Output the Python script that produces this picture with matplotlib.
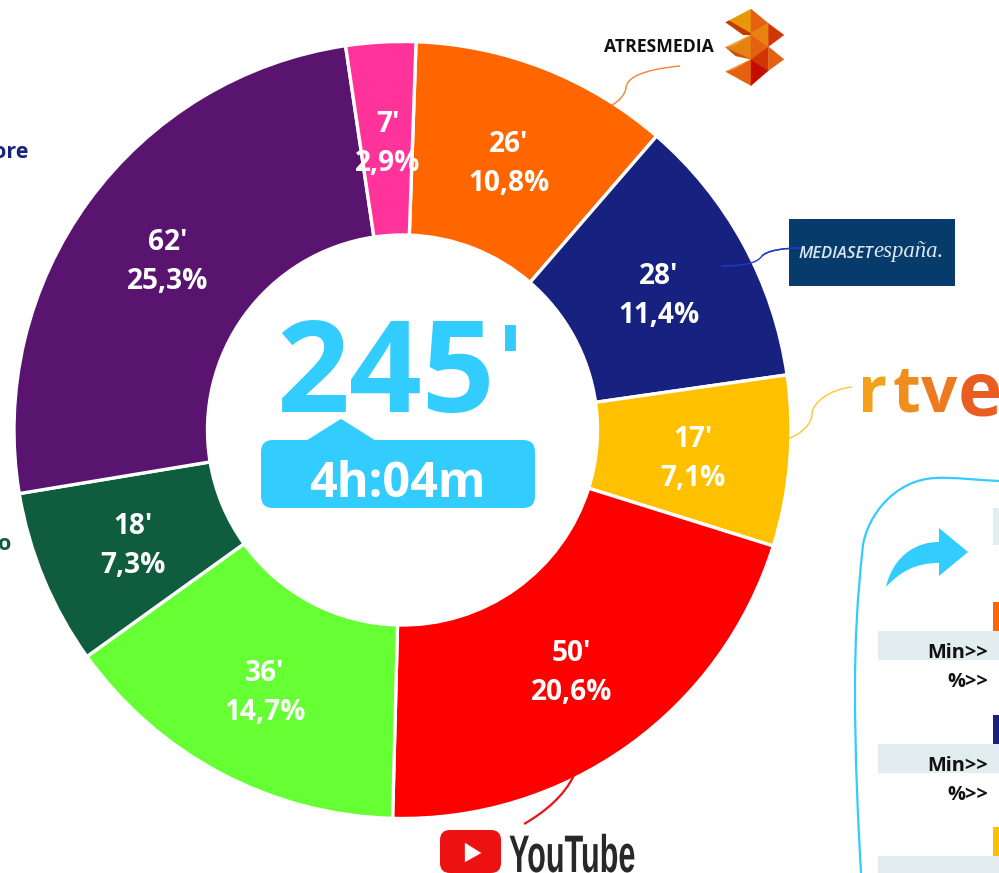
import math
import matplotlib
matplotlib.use("Agg")
import matplotlib.pyplot as plt
from matplotlib.patches import PathPatch, Polygon, FancyBboxPatch, Rectangle
from matplotlib.patheffects import AbstractPathEffect
from matplotlib.path import Path
from matplotlib.transforms import Affine2D

# ---- data ----
minutes = [26, 28, 17, 50, 36, 18, 62, 7]
shares = [10.8, 11.4, 7.1, 20.6, 14.7, 7.3, 25.3, 2.9]
colors = ["#FF6600", "#172280", "#FFC000", "#FF0000", "#66FF33", "#0F5C3E", "#58146F", "#FF3399"]
total_label = "245'"
total_time = "4h:04m"

W, H = 999, 873
plt.rcParams["font.family"] = ["Open Sans", "DejaVu Sans"]
fig = plt.figure(figsize=(W / 100, H / 100), dpi=100)
ax = fig.add_axes([0, 0, 1, 1])

CX, CY, R, RIN = 402.5, 430, 388.5, 195
START = 2.0
BLUE = "#33CCFF"


def Y(y):
    return H - y


ax.pie(shares, colors=colors, startangle=90 - START, counterclock=False,
       center=(CX, Y(CY)), radius=R,
       wedgeprops=dict(width=R - RIN, edgecolor="white", linewidth=2.4))
ax.set_xlim(0, W)
ax.set_ylim(0, H)
ax.set_aspect("auto")
ax.axis("off")


class Squeeze(AbstractPathEffect):
    """Narrow a text horizontally about its left edge (no condensed font is installed)."""

    def __init__(self, x0, sx):
        super().__init__()
        self.x0, self.sx = x0, sx

    def draw_path(self, renderer, gc, tpath, affine, rgbFace=None):
        t = Affine2D().translate(-self.x0, 0).scale(self.sx, 1).translate(self.x0, 0)
        renderer.draw_path(gc, tpath, affine + t, rgbFace)


def curve(pts, color, lw):
    codes = [Path.MOVETO] + [Path.CURVE4] * (len(pts) - 1)
    ax.add_patch(PathPatch(Path([(x, Y(y)) for x, y in pts], codes), fc="none", ec=color, lw=lw, zorder=4))


def poly(pts, color, z=4):
    ax.add_patch(Polygon([(x, Y(y)) for x, y in pts], closed=True, fc=color, ec=color, lw=0.2, zorder=z))


# wedge labels, at mid-ring
cum = 0.0
mid_r = (R + RIN) / 2
for m, s in zip(minutes, shares):
    a = math.radians(START + (cum + s / 2) * 3.6)
    cum += s
    x = CX + mid_r * math.sin(a)
    y = CY - mid_r * math.cos(a)
    ax.text(x, Y(y - 14), f"{m}'", color="white", fontsize=20.2, fontweight="bold",
            ha="center", va="center", zorder=5)
    ax.text(x, Y(y + 25), f"{s:.1f}%".replace(".", ","), color="white", fontsize=20.2,
            fontweight="bold", ha="center", va="center", zorder=5)

# centre
ax.text(385.5, Y(412), total_label[:-1], color=BLUE, fontsize=92, fontweight="bold", ha="center",
        va="baseline", zorder=5)
ax.text(510.5, Y(322), total_label[-1], color=BLUE, fontsize=68, fontweight="bold", ha="center",
        va="top", family=["DejaVu Sans"], zorder=5)
ax.add_patch(FancyBboxPatch((261 + 12, Y(508) + 12), 274 - 24, 68 - 24,
                            boxstyle="round,pad=12,rounding_size=12", fc=BLUE, ec="none", zorder=4))
poly([(306, 441), (341, 419), (376, 441)], BLUE)
ax.text(397, Y(497), total_time, color="white", fontsize=35, fontweight="bold", ha="center",
        va="baseline", zorder=5)

# leader lines
curve([(680, 66), (640, 70), (627, 78), (626, 88), (625, 95), (618, 102), (612, 105)], "#F58233", 1.0)
curve([(721, 266), (745, 266), (757, 263), (762, 256), (768, 250), (785, 248), (801, 248)], "#2438C8", 1.0)
curve([(852, 387), (830, 389), (812, 403), (812, 414), (812, 425), (800, 434), (788, 439)], "#FFC72C", 1.0)
curve([(574, 775), (565, 795), (545, 812), (524, 824)], "#EE1111", 1.6)

# Atresmedia logo
ax.text(604, Y(52.5), "ATRESMEDIA", color="#111111", fontsize=12.7, fontweight="bold",
        ha="left", va="baseline", zorder=5)
z = lambda p: [(715 + a / 3, b / 3) for a, b in p]
poly(z([(32, 67), (108, 27), (108, 100)]), "#E8960A")
poly(z([(32, 67), (42, 62), (108, 100), (108, 105), (85, 105)]), "#C23A00")
poly(z([(108, 27), (160, 70), (108, 100)]), "#E5610F")
poly(z([(108, 100), (160, 70), (160, 140), (108, 105)]), "#E8820F")
poly(z([(160, 70), (207, 105), (160, 140)]), "#D03600")
poly(z([(32, 142), (108, 105), (108, 178)]), "#E8820F")
poly(z([(32, 142), (108, 105), (60, 135)]), "#EDA63C")
poly(z([(108, 105), (160, 140), (108, 178)]), "#E5610F")
poly(z([(32, 142), (108, 178), (62, 168)]), "#C8520A")
poly(z([(108, 178), (160, 140), (160, 212)]), "#D03600")
poly(z([(160, 140), (207, 178), (160, 212)]), "#E5610F")
poly(z([(32, 215), (108, 178), (108, 257)]), "#E5610F")
poly(z([(32, 215), (108, 178), (62, 205)]), "#EDA63C")
poly(z([(108, 178), (160, 212), (108, 257)]), "#C40D00")

# Mediaset logo
ax.add_patch(Rectangle((789, Y(286)), 166, 67, fc="#073B6B", ec="none", zorder=3))
curve([(762, 256), (768, 250), (785, 248), (801, 248)], "#2438C8", 1.0)
ax.text(798, Y(257.5), "MEDIASET", color="#DCE8F0", fontsize=12, fontstyle="italic",
        fontweight="semibold", ha="left", va="baseline", zorder=5)
ax.text(873, Y(257.5), "españa.", color="#DCE8F0", fontsize=16.4, fontstyle="italic",
        family=["Liberation Serif", "DejaVu Serif"], ha="left", va="baseline", zorder=5)

# rtve logo
for ch, x, c, fs, base in zip("rtve", [858, 892, 921, 958], ["#F4A01C", "#F18C1E", "#EE7A20", "#E85E22"],
                              [46, 46, 46, 54], [412, 412, 412, 415]):
    ax.text(x, Y(base), ch, color=c, fontsize=fs, fontweight="bold", ha="left", va="baseline", zorder=5)

# YouTube logo
ax.add_patch(FancyBboxPatch((450, 10), 41, 23, boxstyle="round,pad=10,rounding_size=10",
                            fc="#EE1111", ec="none", zorder=4))
poly([(465, 843), (465, 862), (481, 853)], "white", 5)
ax.text(509, Y(872), "YouTube", color="#282828", fontsize=38, fontweight="bold",
        family=["Liberation Sans"], ha="left", va="baseline", zorder=5,
        path_effects=[Squeeze(509, 0.58)])

# clipped left legend words
ax.text(28, Y(158), "ore", color="#172280", fontsize=15.5, fontweight="bold", ha="right", va="baseline")
ax.text(11, Y(550), "o", color="#0F5C3E", fontsize=15.5, fontweight="bold", ha="right", va="baseline")

# right panel
curve([(999, 481), (975, 480), (955, 477), (935, 478),
       (895, 480), (868, 515), (863, 545),
       (857, 600), (855, 640), (855, 690),
       (855, 760), (858, 820), (861, 873)], BLUE, 1.6)
p = Path([(886, Y(587)), (892, Y(560)), (912, Y(542)), (939, Y(542)), (939, Y(528)), (968, Y(552)),
          (939, Y(576)), (939, Y(563)), (915, Y(563)), (900, Y(572)), (886, Y(587)), (886, Y(587))],
         [Path.MOVETO, Path.CURVE4, Path.CURVE4, Path.CURVE4, Path.LINETO, Path.LINETO, Path.LINETO,
          Path.LINETO, Path.CURVE4, Path.CURVE4, Path.CURVE4, Path.CLOSEPOLY])
ax.add_patch(PathPatch(p, fc=BLUE, ec="none", zorder=4))

ROW = "#E2EDEF"
ax.add_patch(Rectangle((993, Y(545)), 6, 37, fc=ROW, ec="none", zorder=3))
for top, c in zip([602, 715, 827], [colors[0], colors[1], colors[2]]):
    ax.add_patch(Rectangle((993, Y(top + 29)), 6, 29, fc=c, ec="none", zorder=3))
    ax.add_patch(Rectangle((878, Y(top + 58)), 121, 29, fc=ROW, ec="none", zorder=3))
    if top + 50 < H:
        ax.text(988, Y(top + 56), "Min>>", color="#111111", fontsize=14.4, fontweight="bold", ha="right", va="baseline", zorder=5)
        ax.text(988, Y(top + 85), "%>>", color="#111111", fontsize=14.4, fontweight="bold", ha="right", va="baseline", zorder=5)

fig.savefig("out.png", dpi=100, facecolor="white")
